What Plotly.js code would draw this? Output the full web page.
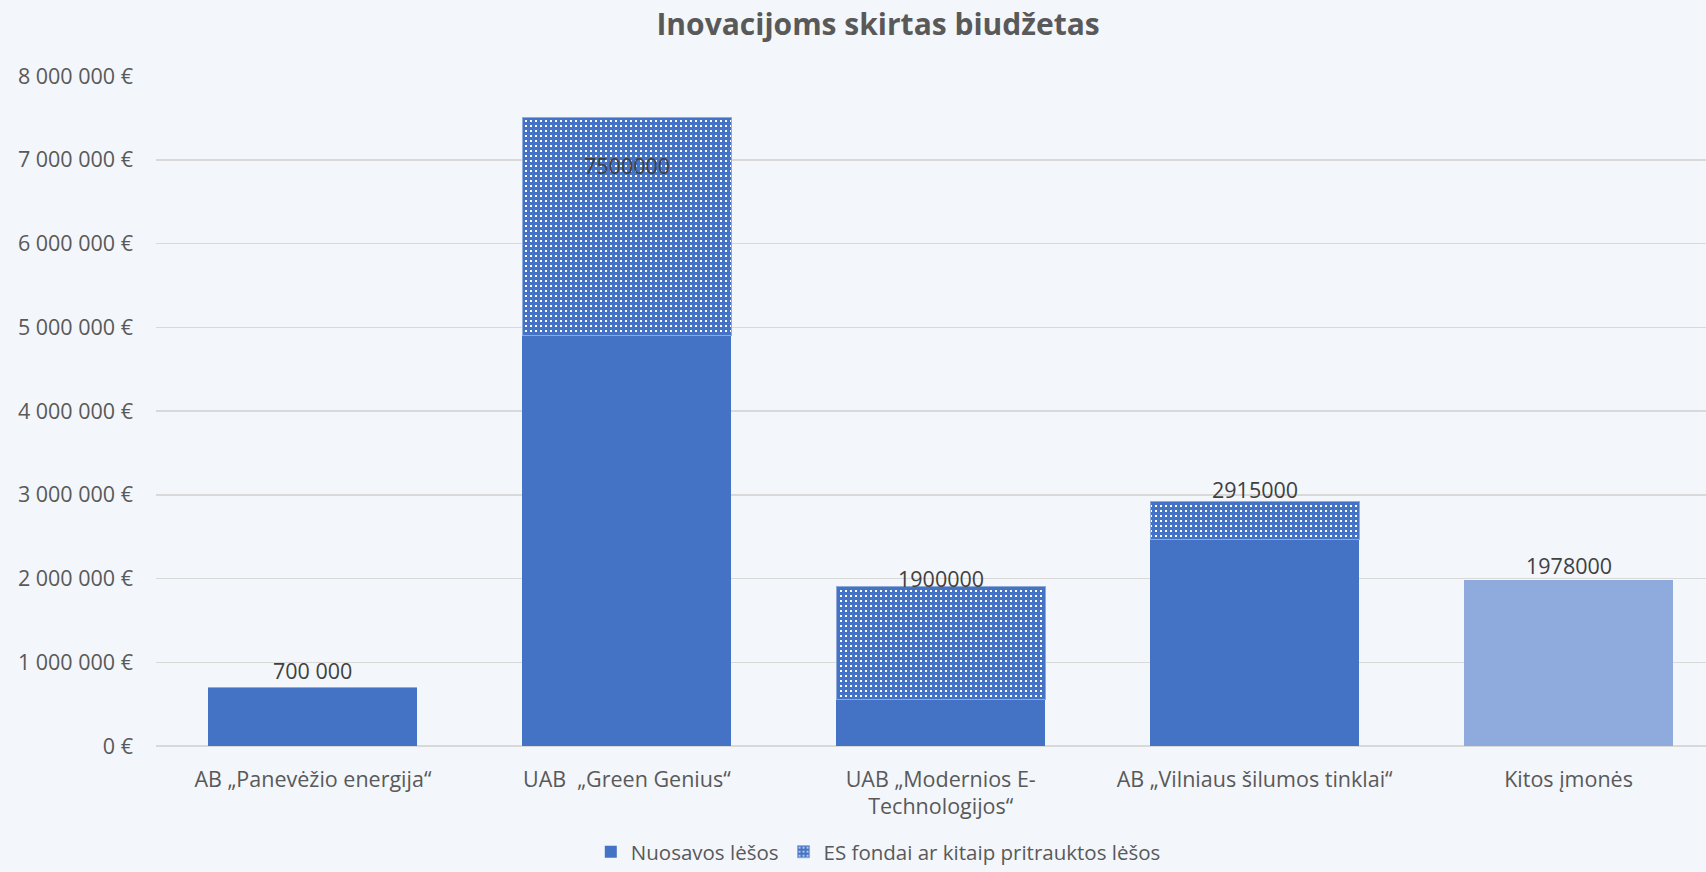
<!DOCTYPE html>
<html>
<head>
<meta charset="utf-8">
<script src="https://cdn.plot.ly/plotly-3.0.1.min.js"></script>
<style>
html,body{margin:0;padding:0;background:#f3f6fa;}
#chart{width:1706px;height:872px;}
</style>
</head>
<body>
<div id="chart"></div>
<script>
const categories = [
  "AB „Panevėžio energija“",
  "UAB  „Green Genius“",
  "UAB „Modernios E-<br>Technologijos“",
  "AB „Vilniaus šilumos tinklai“",
  "Kitos įmonės"
];
const nuosavos = [700000, 4900000, 560000, 2460000, 1978000];
const esFondai = [0, 2600000, 1340000, 455000, 0];
const totals = [700000, 7500000, 1900000, 2915000, 1978000];
const totalLabels = ["700 000", "7500000", "1900000", "2915000", "1978000"];
const yTickVals = [0, 1000000, 2000000, 3000000, 4000000, 5000000, 6000000, 7000000, 8000000];
const yTickText = ["0 €", "1 000 000 €", "2 000 000 €", "3 000 000 €", "4 000 000 €", "5 000 000 €", "6 000 000 €", "7 000 000 €", "8 000 000 €"];
const seriesNames = ["Nuosavos lėšos", "ES fondai ar kitaip pritrauktos lėšos"];

const labelShift = [17, -48, 8, 12, 15];
const barColors = ["#4472c4", "#4472c4", "#4472c4", "#4472c4", "#8faadc"];

const traces = [
  {
    type: "bar",
    name: seriesNames[0],
    x: categories,
    y: nuosavos,
    marker: {color: barColors, line: {width: 0}},
    hoverinfo: "skip"
  },
  {
    type: "bar",
    name: seriesNames[1],
    x: categories,
    y: esFondai,
    marker: {
      color: "#4472c4",
      line: {color: "#8eaadb", width: 1},
      pattern: {shape: "+", fgcolor: "#4472c4", bgcolor: "#ffffff", size: 5, solidity: 0.84, fillmode: "replace"}
    },
    hoverinfo: "skip"
  }
];

const annotations = categories.map((c, i) => ({
  x: c,
  y: totals[i],
  xref: "x",
  yref: "y",
  text: totalLabels[i],
  showarrow: false,
  yanchor: "middle",
  yshift: labelShift[i],
  font: {family: "Open Sans, sans-serif", size: 21.5, color: "#404040"}
}));

const layout = {
  width: 1706,
  height: 872,
  paper_bgcolor: "#f3f6fa",
  plot_bgcolor: "#f3f6fa",
  barmode: "stack",
  bargap: 0.334,
  margin: {l: 156, r: 0, t: 76, b: 126, autoexpand: false},
  title: {
    text: "<b>Inovacijoms skirtas biudžetas</b>",
    x: 0.5147,
    xanchor: "center",
    y: 0.972,
    yanchor: "middle",
    font: {family: "Open Sans, sans-serif", size: 30, color: "#595959"}
  },
  xaxis: {
    type: "category",
    range: [-0.5, 4.438],
    showgrid: false,
    showline: false,
    ticks: "",
    tickfont: {family: "Open Sans, sans-serif", size: 21.5, color: "#595959"},
    ticklabelstandoff: 18
  },
  yaxis: {
    range: [0, 8000000],
    tickvals: yTickVals,
    ticktext: yTickText,
    showgrid: true,
    gridcolor: "#d9d9d9",
    gridwidth: 1.5,
    zeroline: true,
    zerolinecolor: "#d9d9d9",
    zerolinewidth: 1.5,
    showline: false,
    ticks: "",
    tickfont: {family: "Open Sans, sans-serif", size: 21.5, color: "#595959"},
    ticklabelstandoff: 22
  },
  showlegend: true,
  legend: {
    orientation: "h",
    x: 0.466,
    xanchor: "center",
    y: -0.158,
    yanchor: "middle",
    font: {family: "Open Sans, sans-serif", size: 20.5, color: "#595959"},
    itemwidth: 30,
    traceorder: "normal",
    bgcolor: "rgba(0,0,0,0)"
  },
  annotations: annotations,
  hovermode: false
};

Plotly.newPlot("chart", traces, layout, {displayModeBar: false, staticPlot: true});
</script>
</body>
</html>
